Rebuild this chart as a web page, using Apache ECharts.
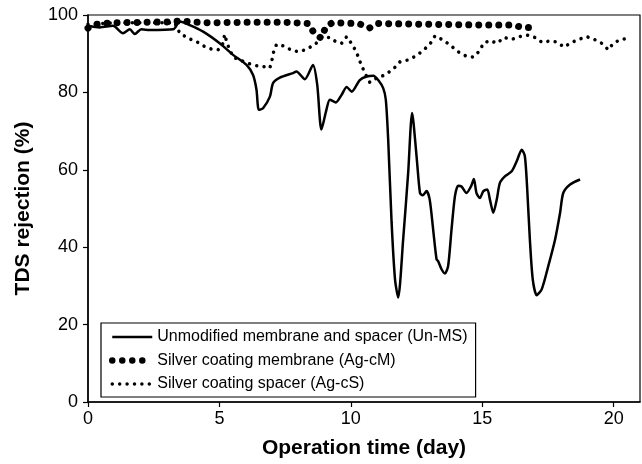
<!DOCTYPE html>
<html>
<head>
<meta charset="utf-8">
<script src="https://cdn.jsdelivr.net/npm/echarts@6/dist/echarts.min.js"></script>
<style>
  html, body { margin: 0; padding: 0; background: #fff; }
  #chart { width: 642px; height: 464px; }
</style>
</head>
<body>
<div id="chart"></div>
<script>
const FONT = "Liberation Sans, Arial, sans-serif";

const seriesNames = [
  "Unmodified membrane and spacer (Un-MS)",
  "Silver coating membrane (Ag-cM)",
  "Silver coating spacer (Ag-cS)",
];

const xTicks = [0, 5, 10, 15, 20];
const yTicks = [0, 20, 40, 60, 80, 100];

// [day, rejection %]
const unMS = [
  [0, 97.2], [0.45, 96.8], [0.95, 97.2], [1.33, 95.3], [1.59, 96.3], [1.78, 95.1],
  [2.03, 96.3], [2.35, 96.1], [3.24, 96.3], [3.49, 98.3], [3.87, 97.4], [4.38, 95.7],
  [5.01, 92.7], [5.52, 89.7], [6.03, 87.1], [6.28, 84.5], [6.41, 80.7], [6.5, 75.5],
  [6.66, 75.9], [6.92, 78.9], [7.04, 82.4], [7.3, 83.8], [7.8, 85.0], [7.93, 85.4],
  [8.25, 83.4], [8.56, 87.1], [8.72, 82], [8.88, 70.4], [9.07, 75.5], [9.2, 78.1],
  [9.43, 77.4], [9.65, 79.4], [9.84, 81.4], [10.03, 80.2], [10.34, 83.2], [10.6, 84.1],
  [10.85, 84.3], [11.04, 83.2], [11.23, 81.1], [11.33, 78.1], [11.42, 67.8], [11.55, 46.4],
  [11.68, 31.7], [11.8, 27], [11.99, 42], [12.18, 59.2], [12.33, 74.7], [12.5, 63.5],
  [12.63, 54.0], [12.73, 53.4], [12.88, 54.5], [13.0, 52.3], [13.13, 44.6], [13.26, 36.9],
  [13.32, 36.4], [13.45, 34.3], [13.58, 33.2], [13.7, 35.1], [13.83, 44.6], [13.96, 53.2],
  [14.08, 55.9], [14.21, 55.7], [14.4, 54.0], [14.57, 55.7], [14.68, 57.6], [14.78, 54.0],
  [14.91, 52.7], [15.04, 54.5], [15.19, 54.9], [15.29, 52.3], [15.42, 48.9], [15.55, 52.3],
  [15.67, 56.6], [15.86, 58.3], [16.12, 59.6], [16.31, 62.2], [16.5, 65.2], [16.62, 63.5],
  [16.71, 54.9], [16.81, 42], [16.92, 31.7], [17.07, 27.6], [17.26, 29.1], [17.51, 35.1],
  [17.77, 42], [17.96, 48.9], [18.08, 54.0], [18.34, 56.2], [18.72, 57.5],
];

const agCM = [
  [0, 96.6], [0.3, 97.6], [1, 98.0], [2, 98.1], [3, 98.2], [3.5, 98.4], [4.5, 98.0],
  [6, 98.1], [7.5, 98.1], [8.4, 97.8], [8.6, 95.3], [8.88, 94.0], [9.05, 97.0], [9.3, 98.0],
  [10.3, 97.8], [10.7, 96.6], [11.0, 97.8], [13, 97.6], [15, 97.4], [16.2, 97.4],
  [16.5, 96.8], [16.9, 96.8],
];

const agCS = [
  [0, 97.6], [1, 98.0], [2, 98.0], [3.3, 98.0], [3.49, 95.3], [3.81, 94.0], [4.13, 93.1],
  [4.4, 92.0], [4.7, 91.2], [4.95, 91.0], [5.14, 92.7], [5.2, 95.0], [5.3, 92.5], [5.52, 89.1],
  [5.84, 88.2], [6.09, 87.5], [6.41, 86.9], [6.66, 86.7], [6.92, 86.3], [7.0, 88.4],
  [7.06, 90.4], [7.17, 92.4], [7.45, 92.0], [7.77, 90.8], [8.06, 90.5], [8.31, 91.2],
  [8.63, 92.3], [8.88, 94.2], [9.2, 94.2], [9.43, 93.1], [9.65, 92.7], [9.84, 94.4],
  [10.05, 92.4], [10.22, 90.3], [10.32, 88.4], [10.45, 86.3], [10.57, 84.5], [10.72, 82.6],
  [10.98, 83.7], [11.29, 84.5], [11.61, 86.0], [11.87, 87.9], [12.18, 88.4], [12.47, 89.4],
  [12.75, 90.8], [13.03, 92.7], [13.2, 94.6], [13.49, 93.6], [13.8, 92.1], [14.08, 90.5],
  [14.38, 89.4], [14.66, 89.1], [14.91, 90.8], [15.04, 92.7], [15.29, 93.4], [15.57, 92.7],
  [15.82, 94.2], [16.12, 93.7], [16.41, 94.4], [16.71, 94.8], [17.0, 94.2], [17.28, 92.9],
  [17.58, 93.3], [17.85, 93.0], [18.11, 91.7], [18.39, 92.9], [18.68, 93.7], [18.97, 94.4],
  [19.26, 93.7], [19.54, 92.7], [19.8, 91.0], [19.98, 92.7], [20.24, 93.6], [20.56, 94.0],
];

const BIG_DOT = [0.01, 10];
const SMALL_DOT = [0.01, 7.4];

const chart = echarts.init(document.getElementById("chart"), null, { renderer: "canvas" });

chart.setOption({
  animation: false,
  textStyle: { fontFamily: FONT, color: "#000" },
  grid: {
    left: 88, right: 2, top: 15, bottom: 61,
    show: true, borderColor: "#000", borderWidth: 1.2,
  },
  xAxis: {
    type: "value",
    min: 0, max: 21, interval: 5,
    name: "Operation time (day)",
    nameLocation: "middle",
    nameGap: 36,
    nameTextStyle: { fontSize: 21, fontWeight: "bold", color: "#000", fontFamily: FONT },
    axisLine: { onZero: false, lineStyle: { color: "#000", width: 1.5 } },
    axisTick: { show: true, length: 5, lineStyle: { color: "#000", width: 1.2 }, customValues: xTicks },
    axisLabel: { fontSize: 18, color: "#000", margin: 8, customValues: xTicks },
    splitLine: { show: false },
  },
  yAxis: {
    type: "value",
    min: 0, max: 100, interval: 20,
    name: "TDS rejection (%)",
    nameLocation: "middle",
    nameGap: 54,
    nameTextStyle: { fontSize: 21, fontWeight: "bold", color: "#000", fontFamily: FONT },
    axisLine: { show: true, lineStyle: { color: "#000", width: 1.5 } },
    axisTick: { show: true, length: 5, lineStyle: { color: "#000", width: 1.2 }, customValues: yTicks },
    axisLabel: { fontSize: 18, color: "#000", margin: 10, customValues: yTicks },
    splitLine: { show: false },
  },
  legend: {
    orient: "vertical",
    left: 101, top: 323,
    itemWidth: 40, itemHeight: 14, itemGap: 7.5,
    padding: [6, 8, 5, 8],
    borderColor: "#000", borderWidth: 1.2,
    itemStyle: { opacity: 0 },
    textStyle: { fontSize: 16, color: "#000", fontFamily: FONT },
    data: [
      { name: seriesNames[0], lineStyle: { width: 2.5 } },
      { name: seriesNames[1], lineStyle: { width: 6.5 } },
      { name: seriesNames[2], lineStyle: { width: 3.5 } },
    ],
  },
  series: [
    {
      name: seriesNames[0],
      type: "line",
      data: unMS,
      smooth: 0.25,
      symbol: "none",
      lineStyle: { color: "#000", width: 2.5 },
      itemStyle: { color: "#000" },
      z: 2,
    },
    {
      name: seriesNames[1],
      type: "line",
      data: agCM,
      symbol: "none",
      lineStyle: { color: "#000", width: 7, type: BIG_DOT, cap: "round" },
      itemStyle: { color: "#000" },
      z: 4,
    },
    {
      name: seriesNames[2],
      type: "line",
      data: agCS,
      symbol: "none",
      lineStyle: { color: "#000", width: 3.5, type: SMALL_DOT, cap: "round" },
      itemStyle: { color: "#000" },
      z: 3,
    },
  ],
});
</script>
</body>
</html>
